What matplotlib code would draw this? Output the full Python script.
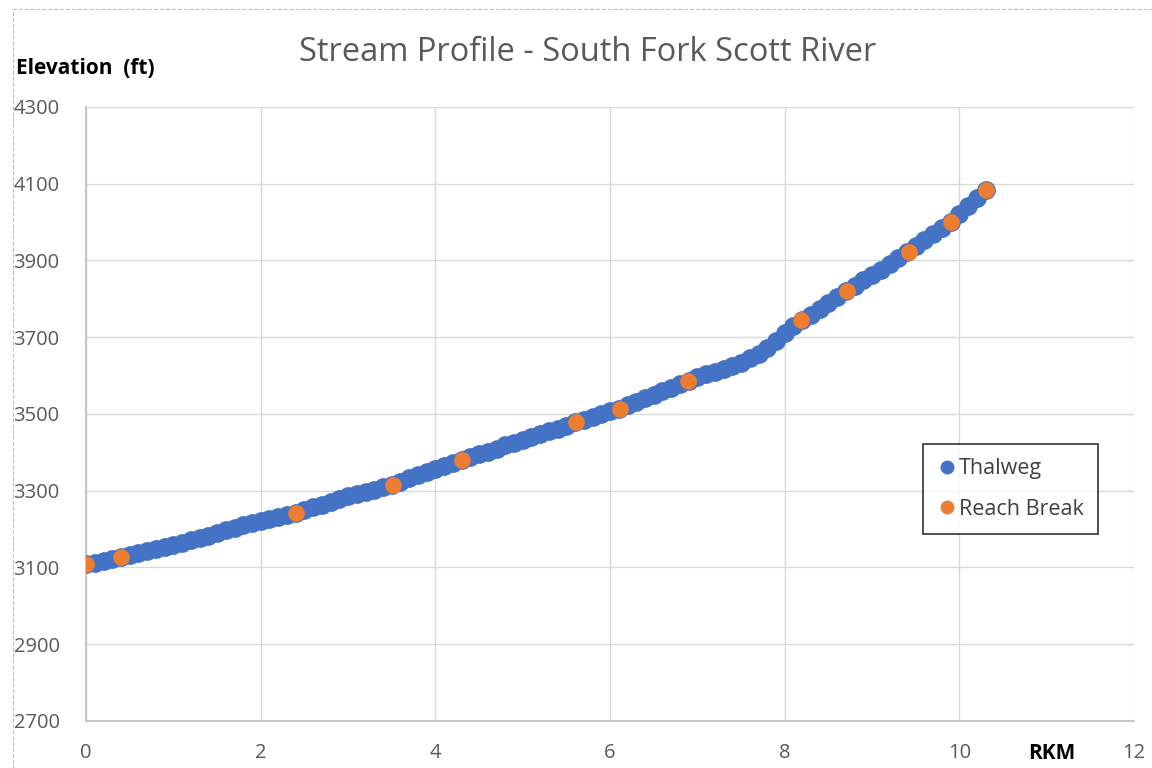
import matplotlib.pyplot as plt
from matplotlib.patches import Rectangle

# thalweg profile, every 0.1 km
rkm = [round(i * 0.1, 1) for i in range(104)]
elevation = [
    3108, 3113, 3118, 3123, 3128, 3133, 3138, 3143, 3149, 3154,
    3159, 3165, 3171, 3177, 3183, 3190, 3197, 3204, 3210, 3215,
    3221, 3226, 3232, 3238, 3243, 3250, 3257, 3264, 3271, 3278,
    3285, 3291, 3297, 3303, 3309, 3316, 3324, 3332, 3340, 3348,
    3356, 3364, 3371, 3379, 3387, 3395, 3402, 3410, 3418, 3425,
    3432, 3440, 3447, 3455, 3462, 3470, 3478, 3485, 3492, 3500,
    3507, 3514, 3523, 3532, 3541, 3550, 3560, 3569, 3578, 3587,
    3596, 3603, 3610, 3616, 3624, 3634, 3645, 3657, 3672, 3690,
    3710, 3728, 3744, 3759, 3774, 3789, 3805, 3820, 3834, 3848,
    3862, 3876, 3891, 3906, 3922, 3938, 3953, 3969, 3984, 4000,
    4020, 4041, 4062, 4083,
]

break_rkm = [0.0, 0.40, 2.40, 3.51, 4.30, 5.61, 6.11, 6.89, 8.19, 8.71, 9.42, 9.90, 10.31]
break_elev = [3108, 3128, 3243, 3316, 3379, 3478, 3514, 3587, 3744, 3820, 3922, 4000, 4084]

x_ticks = [0, 2, 4, 6, 8, 10, 12]
y_ticks = [2700, 2900, 3100, 3300, 3500, 3700, 3900, 4100, 4300]

plt.rcParams['font.family'] = ['Open Sans', 'DejaVu Sans']

fig = plt.figure(figsize=(11.52, 7.68), dpi=100)
ax = fig.add_axes([0.0747, 0.0612, 0.9097, 0.7995])

ax.plot(rkm, elevation, 'o', color='#4472C4', markersize=13.5, markeredgewidth=0,
        label='Thalweg', zorder=3)
ax.plot(break_rkm, break_elev, 'o', color='#ED7D31', markersize=12, markeredgewidth=0,
        label='Reach Break', zorder=4)

ax.set_xlim(0, 12)
ax.set_ylim(2700, 4300)
ax.set_xticks(x_ticks)
ax.set_yticks(y_ticks)
ax.grid(True, color='#D9D9D9', linewidth=1)
ax.set_axisbelow(True)
for side in ['top', 'right']:
    ax.spines[side].set_visible(False)
for side in ['left', 'bottom']:
    ax.spines[side].set_color('#BFBFBF')
    ax.spines[side].set_linewidth(1.2)
ax.tick_params(length=0, labelsize=14.5, labelcolor='#595959')
ax.tick_params(axis='y', pad=19)
ax.tick_params(axis='x', pad=16)

fig.text(0.51, 0.932, 'Stream Profile - South Fork Scott River', ha='center', va='center',
         fontsize=23.5, color='#595959')
fig.text(0.014, 0.911, 'Elevation  (ft)', ha='left', va='center', fontsize=15,
         fontweight='bold', color='#000000')
fig.text(0.913, 0.019, 'RKM', ha='center', va='center', fontsize=15,
         fontweight='bold', color='#000000')

leg = ax.legend(loc='upper left', bbox_to_anchor=(0.788, 0.468), frameon=True,
                fancybox=False, edgecolor='black', fontsize=15.5, handletextpad=0.05,
                labelspacing=0.9, borderpad=0.65, handlelength=1.0, labelcolor='#404040')
leg.get_frame().set_linewidth(1.2)
for h in leg.legend_handles:
    h.set_markersize(10)

fig.patches.append(Rectangle((0.011, -0.01), 1.2, 0.998, transform=fig.transFigure,
                             fill=False, edgecolor='#BFBFBF', linestyle='--', linewidth=0.8))

fig.savefig('out.png', dpi=100)
